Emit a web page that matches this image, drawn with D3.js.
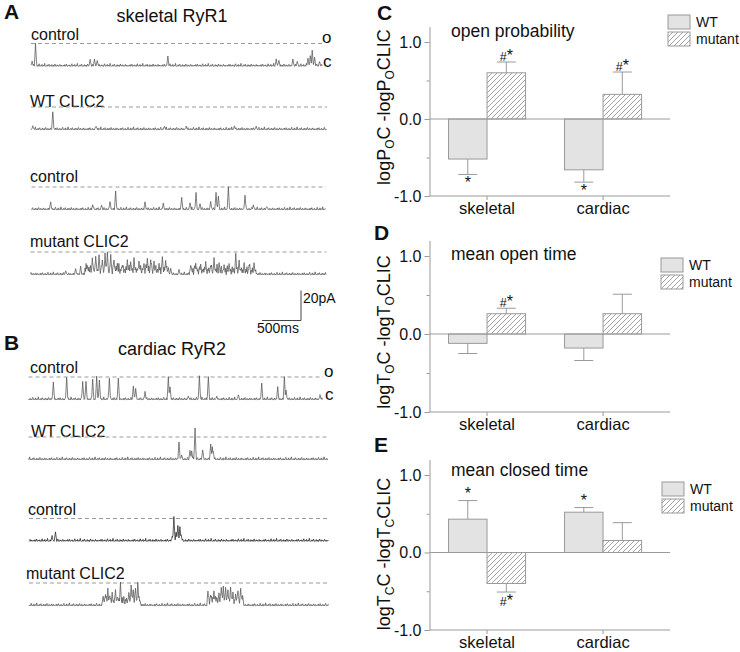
<!DOCTYPE html>
<html><head><meta charset="utf-8">
<script src="https://cdn.jsdelivr.net/npm/d3@7"></script>
<style>body{margin:0;background:#fff}svg{display:block;font-family:"Liberation Sans",Arial,sans-serif}</style>
</head><body><svg id="c" width="740" height="652"></svg>
<script>
// ---------------- DATA ----------------
// single-channel events: [time ms, current pA]
const skControlA = [[15,3],[58,15],[760,4.5],[815,4.5],[850,3.8],[1757,6.8],[3148,4.5],[3182,3.8],[3362,4.5],[3418,3],[3555,5.2],[3585,6.8],[3610,10.5],[3640,6],[3704,3]];
const skWTClic = [[24,2.2],[280,12],[836,2.2],[1713,2.2],[1992,2],[2612,2.2],[2890,2]];
const skControlB = [[246,5.2],[785,3],[900,3],[1008,5.2],[1080,12],[1457,5.2],[1692,4],[1928,8.2],[2035,4.5],[2112,11],[2163,4],[2300,5.2],[2369,11.4],[2399,8.7],[2527,15],[2741,9.7],[2848,3],[3019,2.2]];
const skMutClic = [[452,2.2],[580,4],[644,5.2],[730,6.3],[794,11],[837,12],[880,13.2],[922,9.7],[957,14.2],[987,15],[1030,13.2],[1072,9.7],[1115,7.5],[1179,6.3],[1243,9.7],[1286,8.7],[1329,11],[1393,8.7],[1457,7.5],[1500,11],[1543,9.7],[1586,8.7],[1650,7.5],[1693,12],[1735,9.7],[1800,4],[1907,3],[2057,6.3],[2121,7.5],[2185,7],[2249,8.7],[2313,6.3],[2356,11],[2421,8],[2485,6.3],[2549,7.5],[2635,14.2],[2678,9.7],[2742,7.5],[2806,6.3],[2870,7.5]];
const skMutBursts = [[700,1780,3],[2040,2900,2.5]];
const caControlA = [[319,11.4],[490,15],[696,12],[738,12],[824,13.2],[875,15.5],[910,13.2],[1038,14.2],[1153,14.2],[1346,9],[1376,7.5],[1496,5.2],[1795,15],[1817,8.7],[2052,2.2],[2194,15.5],[2309,15.5],[2416,2.2],[2694,3],[2994,10.5],[3199,8.2],[3285,15],[3306,6.3],[3742,3]];
const caWTClic = [[1932,11.7],[1966,3],[2073,6.2],[2095,5.7],[2138,21],[2236,6.7],[2339,10.5],[2360,8.4],[2373,5.1]];
const caControlB = [[297,3.3],[340,6.2],[1838,2.9],[1860,16.5],[1889,6.2],[1911,10.5],[1937,9.5],[1954,3.9]];
const caMutClic = [[952,6.5],[982,7.5],[1012,11.5],[1038,6.5],[1068,8.5],[1110,10.5],[1140,5.4],[1174,15.6],[1208,2.4],[1281,8.5],[1311,13.5],[1337,10.5],[1367,11.5],[1397,15.6],[1423,3.5],[2297,9.6],[2340,6.5],[2374,9.6],[2408,5.4],[2438,8.5],[2468,12],[2494,13.2],[2524,12],[2554,10.5],[2588,12.6],[2618,8.5],[2652,7.5],[2682,10],[2717,11.5],[2742,6.5]];
const caMutBursts = [[940,1430,3],[2290,2750,3.5]];
// baseline noise (pA)
const baselineNoise = [0.4,-0.3,0.7,-0.5,0.1,0.9,-0.2,-0.6,0.3,0.0,0.6,-0.4,0.2,-0.8,0.5,1.1,-0.1,-0.5,0.3,-0.2,0.8,-0.6,0.0,0.4,-0.3,1.3,0.2,-0.7,0.1,-0.2,0.6,-0.4,0.3,0.9,-0.5,-0.1,0.2,-0.6,0.7,0.0,-0.3,0.5,-0.8,0.4,1.0,-0.2,0.1,-0.4,0.6,-0.1,0.3,-0.7,0.2,0.8,-0.3,0.0,0.5,-0.5,0.2,-0.1];

// bar charts
const categories = ["skeletal", "cardiac"];
const groups = ["WT", "mutant"];
const yTicks = [-1, 0, 1];
const yMinorTicks = [-0.5, 0.5];
const openProbWT = [-0.52, -0.66], openProbWTErr = [0.20, 0.16];
const openProbMut = [0.60, 0.32], openProbMutErr = [0.14, 0.29];
const openTimeWT = [-0.12, -0.18], openTimeWTErr = [0.13, 0.16];
const openTimeMut = [0.26, 0.26], openTimeMutErr = [0.07, 0.25];
const closedTimeWT = [0.43, 0.52], closedTimeWTErr = [0.24, 0.06];
const closedTimeMut = [-0.40, 0.155], closedTimeMutErr = [0.11, 0.23];
const sigOpenProb = [["skeletal","WT","*"],["skeletal","mutant","#*"],["cardiac","WT","*"],["cardiac","mutant","#*"]];
const sigOpenTime = [["skeletal","mutant","#*"]];
const sigClosedTime = [["skeletal","WT","*"],["skeletal","mutant","#*"],["cardiac","WT","*"]];

// ---------------- DRAW ----------------
const svg = d3.select("#c");
const defs = svg.append("defs");
const pat = defs.append("pattern").attr("id","hatch").attr("patternUnits","userSpaceOnUse")
  .attr("width",5).attr("height",5);
pat.append("rect").attr("width",5).attr("height",5).attr("fill","#fff");
pat.append("path").attr("d","M-1,1 L1,-1 M0,5 L5,0 M4,6 L6,4").attr("stroke","#8a8a8a").attr("stroke-width",0.8);

const pxPerMs = 0.0779, pxPerPA = 1.5, openPA = 15, hw = 15, dt = 7, noiseGain = 1.35;

function letter(t, x, y) {
  svg.append("text").attr("x",x).attr("y",y).attr("font-size",21).attr("font-weight","bold").attr("fill","#111").text(t);
}
function label(t, x, y, size, anchor) {
  return svg.append("text").attr("x",x).attr("y",y).attr("font-size",size).attr("fill","#111")
    .attr("text-anchor",anchor||"start").text(t);
}

letter("A", 4, 19);
letter("B", 4, 350);
label("skeletal RyR1", 172, 22, 18, "middle");
label("cardiac RyR2", 172, 355, 18, "middle");

const traces = [
  {ev: skControlA, bursts: [], baseY: 66, x0: 31, dur: 3740, name: "control", lx: 31, ly: 40, off: 0, oc: [322, 43, 67]},
  {ev: skWTClic, bursts: [], baseY: 129.5, x0: 31, dur: 3800, name: "WT CLIC2", lx: 30, ly: 106.5, off: 17},
  {ev: skControlB, bursts: [], baseY: 209.5, x0: 31.5, dur: 3780, name: "control", lx: 30, ly: 182, off: 31},
  {ev: skMutClic, bursts: skMutBursts, baseY: 274.5, x0: 30.5, dur: 3800, name: "mutant CLIC2", lx: 30, ly: 247, off: 43},
  {ev: caControlA, bursts: [], baseY: 399.5, x0: 28.5, dur: 3780, name: "control", lx: 30, ly: 373, off: 7, oc: [324, 377, 400]},
  {ev: caWTClic, bursts: [], baseY: 459.5, x0: 28.5, dur: 3850, name: "WT CLIC2", lx: 31, ly: 436.5, off: 23},
  {ev: caControlB, bursts: [], baseY: 541, x0: 29, dur: 3850, name: "control", lx: 28, ly: 515, off: 51, dark: true},
  {ev: caMutClic, bursts: caMutBursts, baseY: 605.5, x0: 29, dur: 3850, name: "mutant CLIC2", lx: 26, ly: 579, off: 11}
];

traces.forEach(tr => {
  const tx = d3.scaleLinear().domain([0, tr.dur]).range([tr.x0, tr.x0 + tr.dur * pxPerMs]);
  const cy = d3.scaleLinear().domain([0, openPA]).range([tr.baseY, tr.baseY - openPA * pxPerPA]);
  label(tr.name, tr.lx, tr.ly, 16);
  svg.append("line").attr("x1", tx(0)).attr("x2", tx(tr.dur)).attr("y1", cy(openPA)).attr("y2", cy(openPA))
    .attr("stroke","#9a9a9a").attr("stroke-width",1).attr("stroke-dasharray","4,3");
  const ts = d3.range(0, tr.dur, dt).concat(tr.ev.map(e => e[0])).sort((a,b)=>a-b);
  const pts = ts.map(t => {
    const nz = baselineNoise[(Math.round(t / dt) + tr.off) % baselineNoise.length] * noiseGain;
    let v = nz;
    tr.bursts.forEach(b => { if (t >= b[0] && t <= b[1]) v = b[2] + nz * 2.5; });
    let sp = 0;
    tr.ev.forEach(e => { const d = Math.abs(t - e[0]); if (d < hw) sp = Math.max(sp, e[1] * (1 - d / hw)); });
    return [t, Math.max(v, sp + nz * 0.3)];
  });
  svg.append("path").attr("d", d3.line().x(d => tx(d[0])).y(d => cy(d[1]))(pts))
    .attr("fill","none").attr("stroke", tr.dark ? "#222" : "#555").attr("stroke-width",0.75);
  if (tr.oc) {
    label("o", tr.oc[0], tr.oc[1], 17);
    label("c", tr.oc[0] + 1, tr.oc[2], 17);
  }
});

// scale bar
const sbX = 301, sbY = 320.5;
svg.append("path").attr("d", `M${sbX - 500 * pxPerMs},${sbY} H${sbX} V${sbY - 20 * pxPerPA}`)
  .attr("fill","none").attr("stroke","#444").attr("stroke-width",1);
label("20pA", sbX + 2, 303, 14);
label("500ms", 257, 333, 14);

// ---------------- bar panels ----------------
const axisX = 429.5, axisEnd = 670;
function barPanel(cfg) {
  const y = d3.scaleLinear().domain([-1, 1.2]).range([cfg.bottom, cfg.top]);
  const x = d3.scaleBand().domain(categories).range([axisX, 660.6]).paddingInner(0.336).paddingOuter(0.164);
  const xg = d3.scaleBand().domain(groups).range([0, x.bandwidth()]);
  const g = svg.append("g");
  const rows = [];
  categories.forEach((c, i) => {
    rows.push({c, grp: "WT", v: cfg.wt[i], e: cfg.wtErr[i]});
    rows.push({c, grp: "mutant", v: cfg.mut[i], e: cfg.mutErr[i]});
  });
  const cx = r => x(r.c) + xg(r.grp) + xg.bandwidth() / 2;
  const tip = r => r.v + Math.sign(r.v) * r.e;
  rows.forEach(r => {
    g.append("line").attr("x1", cx(r)).attr("x2", cx(r)).attr("y1", y(r.v)).attr("y2", y(tip(r)))
      .attr("stroke","#9a9a9a").attr("stroke-width",1);
    g.append("line").attr("x1", cx(r) - 9.5).attr("x2", cx(r) + 9.5).attr("y1", y(tip(r))).attr("y2", y(tip(r)))
      .attr("stroke","#9a9a9a").attr("stroke-width",1);
  });
  g.selectAll("rect.bar").data(rows).join("rect").attr("class","bar")
    .attr("x", r => x(r.c) + xg(r.grp)).attr("width", xg.bandwidth())
    .attr("y", r => Math.min(y(r.v), y(0))).attr("height", r => Math.abs(y(r.v) - y(0)))
    .attr("fill", r => r.grp === "WT" ? "#e3e3e3" : "url(#hatch)")
    .attr("stroke","#9a9a9a").attr("stroke-width",1);
  g.append("line").attr("x1", axisX).attr("x2", axisEnd).attr("y1", y(0)).attr("y2", y(0))
    .attr("stroke","#9a9a9a").attr("stroke-width",1);
  const ya = g.append("g").attr("transform", `translate(${axisX},0)`)
    .call(d3.axisLeft(y).tickValues(yTicks).tickFormat(d => d.toFixed(1)).tickSize(5).tickSizeOuter(0).tickPadding(3));
  ya.select(".domain").attr("stroke","#9a9a9a");
  ya.selectAll(".tick line").attr("stroke","#9a9a9a");
  ya.selectAll("text").attr("font-size",16).attr("fill","#111").attr("font-family","Liberation Sans, Arial, sans-serif");
  const ym = g.append("g").attr("transform", `translate(${axisX},0)`)
    .call(d3.axisLeft(y).tickValues(yMinorTicks).tickFormat("").tickSize(3).tickSizeOuter(0));
  ym.select(".domain").remove();
  ym.selectAll(".tick line").attr("stroke","#9a9a9a");
  const xa = g.append("g").attr("transform", `translate(0,${y(-1)})`)
    .call(d3.axisBottom(x).tickSize(4).tickSizeOuter(0).tickPadding(2));
  xa.select(".domain").remove();
  xa.selectAll(".tick line").attr("stroke","#9a9a9a");
  xa.selectAll("text").attr("font-size",16.5).attr("fill","#111").attr("font-family","Liberation Sans, Arial, sans-serif");
  g.append("line").attr("x1", axisX).attr("x2", axisEnd).attr("y1", y(-1)).attr("y2", y(-1))
    .attr("stroke","#9a9a9a").attr("stroke-width",1);
  cfg.sig.forEach(s => {
    const r = rows.find(q => q.c === s[0] && q.grp === s[1]);
    const up = r.v > 0;
    const ty = up ? y(tip(r)) - 1.5 : y(tip(r)) + 14;
    const t = g.append("text").attr("x", cx(r)).attr("y", ty).attr("text-anchor","middle").attr("fill","#111");
    if (s[2].startsWith("#")) t.append("tspan").attr("font-size",12.5).text("#");
    t.append("tspan").attr("font-size",16).text("*");
  });
  label(cfg.title, 451, cfg.titleY, 17.5);
  letter(cfg.letter, cfg.letterX, cfg.letterY);
  const yl = svg.append("text").attr("transform", `translate(390,${cfg.ylabelY}) rotate(-90)`)
    .attr("text-anchor","middle").attr("font-size",18).attr("fill","#111");
  const p = cfg.ylab;
  yl.append("tspan").text("log" + p[0]);
  yl.append("tspan").attr("font-size",12).attr("dy",4).text(p[1]);
  yl.append("tspan").attr("dy",-4).text("C -log" + p[0]);
  yl.append("tspan").attr("font-size",12).attr("dy",4).text(p[1]);
  yl.append("tspan").attr("dy",-4).text("CLIC");
  groups.forEach((gr, i) => {
    const ly = cfg.legY + i * 17;
    svg.append("rect").attr("x", cfg.legX).attr("y", ly).attr("width",22).attr("height",14)
      .attr("fill", gr === "WT" ? "#e3e3e3" : "url(#hatch)").attr("stroke","#9a9a9a");
    label(gr, cfg.legX + 28, ly + 12, 14);
  });
}

barPanel({top: 26.6, bottom: 196, wt: openProbWT, wtErr: openProbWTErr, mut: openProbMut, mutErr: openProbMutErr,
  sig: sigOpenProb, title: "open probability", titleY: 37, letter: "C", letterX: 377, letterY: 20,
  ylab: ["P","O"], ylabelY: 107, legX: 668, legY: 15});
barPanel({top: 240.4, bottom: 412, wt: openTimeWT, wtErr: openTimeWTErr, mut: openTimeMut, mutErr: openTimeMutErr,
  sig: sigOpenTime, title: "mean open time", titleY: 260, letter: "D", letterX: 374, letterY: 240,
  ylab: ["T","O"], ylabelY: 332, legX: 661, legY: 258});
barPanel({top: 459.5, bottom: 630, wt: closedTimeWT, wtErr: closedTimeWTErr, mut: closedTimeMut, mutErr: closedTimeMutErr,
  sig: sigClosedTime, title: "mean closed time", titleY: 476, letter: "E", letterX: 374, letterY: 452,
  ylab: ["T","C"], ylabelY: 554, legX: 662, legY: 482});
</script></body></html>
